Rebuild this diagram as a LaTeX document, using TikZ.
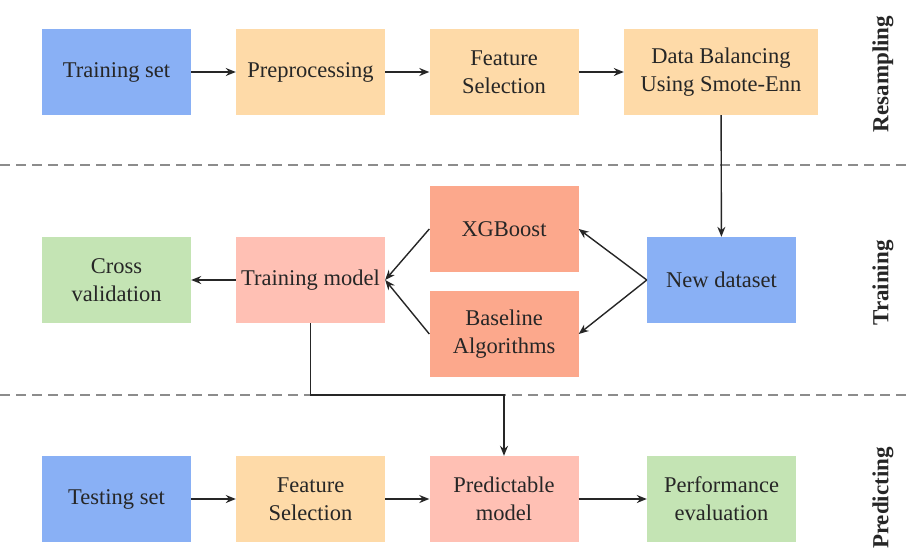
\documentclass[tikz,border=0pt]{standalone}
\usepackage{fontspec}
\setmainfont{Liberation Serif}
\usetikzlibrary{arrows.meta}
\definecolor{setblue}{RGB}{137,176,245}
\definecolor{prepcol}{RGB}{254,218,168}
\definecolor{algcol}{RGB}{252,168,140}
\definecolor{modelcol}{RGB}{255,192,180}
\definecolor{evalcol}{RGB}{196,228,180}
\tikzset{
  box/.style={minimum width=149pt, minimum height=86pt, inner sep=2pt,
    align=center, font=\fontsize{22.5}{28}\selectfont, text=black!85},
  flow/.style={-{Stealth[length=10pt,width=8pt]}, line width=1.4pt, black!85},
  divider/.style={dash pattern=on 10pt off 6pt, line width=1.3pt, black!45},
  stage/.style={rotate=90, font=\bfseries\fontsize{23}{26}\selectfont, text=black!85}
}
\begin{document}
\begin{tikzpicture}[x=1pt,y=-1pt]
\useasboundingbox (0,0) rectangle (915,549);

% stage dividers
\draw[divider] (0,165) -- (912,165);
\draw[divider] (0,395) -- (912,395);

% resampling stage
\node[box, fill=setblue] (ts) at (116.5,72) {Training set};
\node[box, fill=prepcol] (pre) at (310.5,72) {Preprocessing};
\node[box, fill=prepcol] (fs1) at (504,72) {Feature\\Selection};
\node[box, fill=prepcol, minimum width=194pt] (db) at (721,72) {Data Balancing\\Using Smote-Enn};

% training stage
\node[box, fill=evalcol] (cv) at (116.5,280) {Cross\\validation};
\node[box, fill=modelcol] (tm) at (310.5,280) {Training model};
\node[box, fill=algcol] (xg) at (504,229) {XGBoost};
\node[box, fill=algcol] (bl) at (504,334) {Baseline\\Algorithms};
\node[box, fill=setblue] (nd) at (721.5,280) {New dataset};

% predicting stage
\node[box, fill=setblue] (tes) at (116.5,499) {Testing set};
\node[box, fill=prepcol] (fs2) at (310.5,499) {Feature\\Selection};
\node[box, fill=modelcol] (pm) at (504,499) {Predictable\\model};
\node[box, fill=evalcol] (pe) at (721.5,499) {Performance\\evaluation};

% stage labels
\node[stage] (lres) at (883,74) {Resampling};
\node[stage] (ltr) at (883,283) {Training};
\node[stage] (lpr) at (883,498) {Predicting};

% flow
\draw[flow] (ts) -- (pre);
\draw[flow] (pre) -- (fs1);
\draw[flow] (fs1) -- (db);
\draw[flow] (db) -- (nd);
\draw[flow] (nd.west) -- (xg.east);
\draw[flow] (nd.west) -- (bl.east);
\draw[flow] (xg.west) -- (tm.east);
\draw[flow] (bl.west) -- (tm.east);
\draw[flow] (tm) -- (cv);
\coordinate (c1) at (tm.south |- 0,395);
\coordinate (c2) at (pm.north |- 0,395);
\draw[flow] (tm.south) -- (c1) -- (c2) -- (pm.north);
\draw[flow] (tes) -- (fs2);
\draw[flow] (fs2) -- (pm);
\draw[flow] (pm) -- (pe);
\end{tikzpicture}
\end{document}
